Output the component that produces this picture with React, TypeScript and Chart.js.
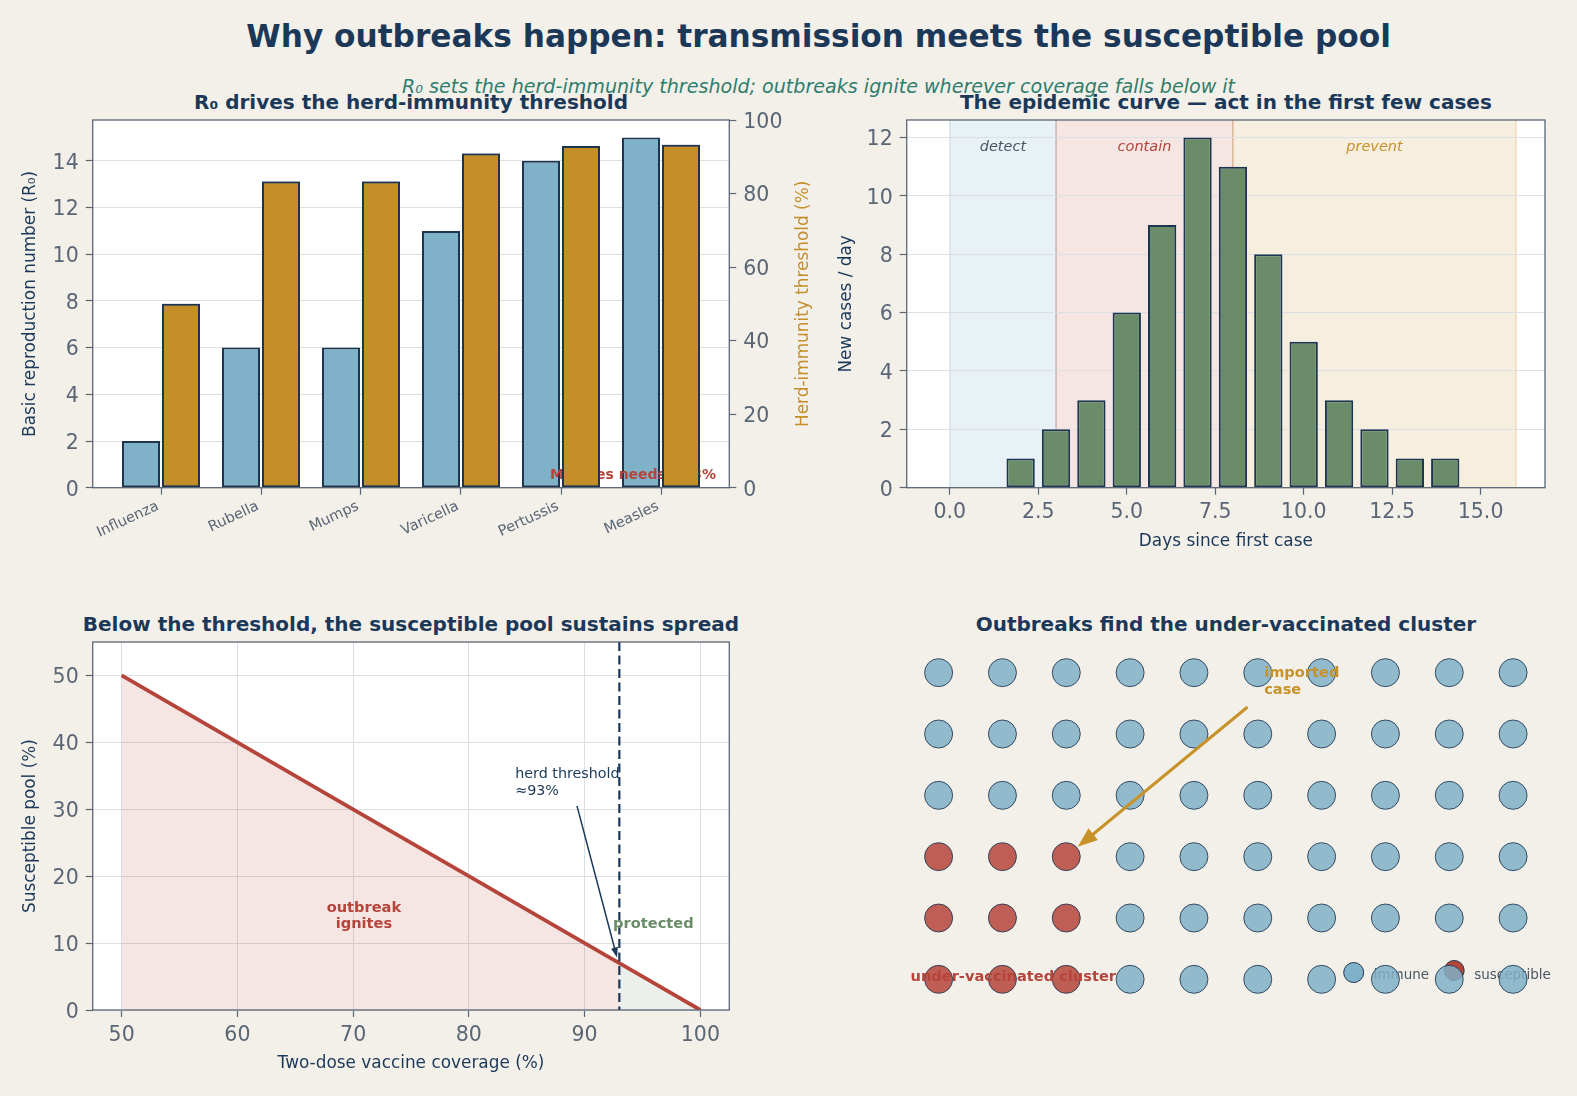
import React, { useEffect, useRef } from "react";
import { Chart, registerables } from "chart.js";

Chart.register(...registerables);

const W = 1577;
const H = 1096;
const FONT = "'DejaVu Sans', 'Liberation Sans', sans-serif";
Chart.defaults.font.family = FONT;

const BG = "#f3f0e9";
const NAVY = "#1c3858";
const EDGE = "#1e3550";
const GRAY = "#5b6675";
const GRID = "#dcdfe4";
const BLUE = "#7fb1c8";
const ORANGE = "#c48e28";
const GREEN = "#6a8c69";
const RED = "#b5443a";
const TEAL = "#2f7d6d";

// ---------------- data ----------------
const diseases = ["Influenza", "Rubella", "Mumps", "Varicella", "Pertussis", "Measles"];
const r0Values = [2, 6, 6, 11, 14, 15];
const herdThresholdPct = [50, 83.3, 83.3, 90.9, 92.9, 93.3];
const r0Ticks = [0, 2, 4, 6, 8, 10, 12, 14];
const herdTicks = [0, 20, 40, 60, 80, 100];

const epiDays = [0, 1, 2, 3, 4, 5, 6, 7, 8, 9, 10, 11, 12, 13, 14, 15];
const epiCases = [0, 0, 1, 2, 3, 6, 9, 12, 11, 8, 5, 3, 2, 1, 1, 0];
const epiDayTicks = [0, 2.5, 5, 7.5, 10, 12.5, 15];
const epiCaseTicks = [0, 2, 4, 6, 8, 10, 12];
const phaseLabels = ["detect", "contain", "prevent"];
const phaseStart = [0, 3, 8];
const phaseEnd = [3, 8, 16];

const coveragePct = [50, 60, 70, 80, 90, 93, 100];
const susceptiblePct = [50, 40, 30, 20, 10, 7, 0];
const herdCoverage = 93;
const coverageTicks = [50, 60, 70, 80, 90, 100];
const poolTicks = [0, 10, 20, 30, 40, 50];

// top row first; I = immune, S = susceptible
const populationGrid = [
  "IIIIIIIIII",
  "IIIIIIIIII",
  "IIIIIIIIII",
  "SSSIIIIIII",
  "SSSIIIIIII",
  "SSSIIIIIII",
];

// ---------------- layout helpers ----------------
const BOX1 = { l: 92.7, t: 120, r: 729.3, b: 487.7 };
const BOX2 = { l: 906.7, t: 120, r: 1545, b: 487.7 };
const BOX3 = { l: 92.7, t: 642, r: 729.3, b: 1010 };
const BOX4 = { l: 906.7, t: 642, r: 1545, b: 1010 };

function layoutFor(box: any, lw: number, rw: number, bh: number) {
  return {
    padding: { left: box.l - lw, top: box.t, right: W - box.r - rw, bottom: H - box.b - bh },
  };
}
const fixW = (w: number) => (s: any) => { s.width = w; };
const fixH = (h: number) => (s: any) => { s.height = h; };
const fixedTicks = (vals: number[]) => (s: any) => { s.ticks = vals.map((v) => ({ value: v })); };

const TICK_FONT = { size: 20.5 };
const Y_TICKS = { color: GRAY, font: TICK_FONT, padding: 7, labelOffset: 2.5 };
const AXIS_TITLE_SIZE = 16.9;
const AXIS_TITLE_FONT = { size: AXIS_TITLE_SIZE };
const gridOpts = (onArea: boolean) => ({
  display: true,
  drawOnChartArea: onArea,
  offset: false,
  color: GRID,
  lineWidth: 1,
  tickLength: 7,
  tickColor: GRAY,
  tickWidth: 1.2,
});
const axisTitle = (text: string, color: string) => ({
  display: true,
  text,
  color,
  font: AXIS_TITLE_FONT,
  padding: { top: 4, bottom: 4 },
});

const framePlugin = {
  id: "frame",
  defaults: { bg: null, stroke: null },
  beforeDraw(chart: any, _a: any, opts: any) {
    if (!opts || !opts.bg) return;
    const { ctx, chartArea: a } = chart;
    ctx.save();
    ctx.fillStyle = opts.bg;
    ctx.fillRect(a.left, a.top, a.right - a.left, a.bottom - a.top);
    ctx.restore();
  },
  afterDraw(chart: any, _a: any, opts: any) {
    if (!opts || !opts.stroke) return;
    const { ctx, chartArea: a } = chart;
    ctx.save();
    ctx.strokeStyle = opts.stroke;
    ctx.lineWidth = 1.3;
    ctx.strokeRect(a.left, a.top, a.right - a.left, a.bottom - a.top);
    ctx.restore();
  },
};
Chart.register(framePlugin as any);

function drawArrow(ctx: any, x1: number, y1: number, x2: number, y2: number, color: string, width: number, headLen: number, headW: number) {
  const ang = Math.atan2(y2 - y1, x2 - x1);
  const c = Math.cos(ang);
  const s = Math.sin(ang);
  const bx = x2 - headLen * c;
  const by = y2 - headLen * s;
  ctx.save();
  ctx.strokeStyle = color;
  ctx.fillStyle = color;
  ctx.lineWidth = width;
  ctx.beginPath();
  ctx.moveTo(x1, y1);
  ctx.lineTo(bx + 1 * c, by + 1 * s);
  ctx.stroke();
  ctx.beginPath();
  ctx.moveTo(x2, y2);
  ctx.lineTo(bx + (headW / 2) * s, by - (headW / 2) * c);
  ctx.lineTo(bx - (headW / 2) * s, by + (headW / 2) * c);
  ctx.closePath();
  ctx.fill();
  ctx.restore();
}

function drawLines(ctx: any, lines: string[], x: number, cy: number, lh: number, font: string, color: string, align: string) {
  ctx.save();
  ctx.font = font;
  ctx.fillStyle = color;
  ctx.textAlign = align;
  ctx.textBaseline = "middle";
  const y0 = cy - ((lines.length - 1) * lh) / 2;
  lines.forEach((t, i) => ctx.fillText(t, x, y0 + i * lh));
  ctx.restore();
}

const baseOptions = {
  animation: false,
  responsive: false,
  events: [],
};

// ---------------- chart 1 ----------------
function cfgR0(): any {
  const barStyle = { borderColor: EDGE, borderWidth: 2, borderSkipped: false, categoryPercentage: 0.8, barPercentage: 0.95 };
  const rightW = 88.3;
  return {
    type: "bar",
    data: {
      datasets: [
        { label: "R0", data: r0Values.map((v, i) => ({ x: i, y: v })), yAxisID: "y", backgroundColor: BLUE, ...barStyle },
        { label: "Herd", data: herdThresholdPct.map((v, i) => ({ x: i, y: v })), yAxisID: "y1", backgroundColor: ORANGE, ...barStyle },
      ],
    },
    options: {
      ...baseOptions,
      layout: layoutFor(BOX1, 76.5, rightW, 70),
      plugins: { legend: { display: false }, tooltip: { enabled: false }, frame: { bg: "#ffffff", stroke: GRAY } },
      scales: {
        x: {
          type: "linear",
          offset: false,
          min: -0.683,
          max: 5.683,
          afterBuildTicks: fixedTicks(diseases.map((_, i) => i)),
          afterFit: fixH(70),
          grid: gridOpts(false),
          border: { display: false },
          ticks: {
            color: GRAY,
            font: { size: 14.5 },
            minRotation: 25,
            maxRotation: 25,
            autoSkip: false,
            padding: 3,
            labelOffset: -3,
            callback: (v: any) => diseases[v] ?? "",
          },
        },
        y: {
          type: "linear",
          position: "left",
          min: 0,
          max: 15.75,
          afterBuildTicks: fixedTicks(r0Ticks),
          afterFit: fixW(76.5),
          grid: gridOpts(true),
          border: { display: false },
          ticks: Y_TICKS,
          title: axisTitle("Basic reproduction number (R₀)", NAVY),
        },
        y1: {
          type: "linear",
          position: "right",
          min: 0,
          max: 100,
          afterBuildTicks: fixedTicks(herdTicks),
          afterFit: fixW(rightW),
          grid: gridOpts(false),
          border: { display: false },
          ticks: Y_TICKS,
        },
      },
    },
    plugins: [
      {
        id: "measlesNote",
        afterDatasetsDraw(chart: any) {
          const { ctx } = chart;
          const x = chart.scales.x.getPixelForValue(4.72);
          const y = chart.scales.y.getPixelForValue(0.51);
          drawLines(ctx, ["Measles needs ≈93%"], x, y, 16, `bold 14px ${FONT}`, RED, "center");
          // threshold bars live on the twin axis and sit above the note
          chart.getDatasetMeta(1).data.forEach((el: any) => el.draw(ctx));
        },
        afterDraw(chart: any) {
          // right-hand axis title, reading bottom-to-top
          const { ctx, chartArea: a } = chart;
          const s = chart.scales.y1;
          const x = s.right - (AXIS_TITLE_SIZE * 1.2) / 2 - 4;
          ctx.save();
          ctx.translate(x, (a.top + a.bottom) / 2);
          ctx.rotate(-Math.PI / 2);
          ctx.font = `${AXIS_TITLE_SIZE}px ${FONT}`;
          ctx.fillStyle = ORANGE;
          ctx.textAlign = "center";
          ctx.textBaseline = "middle";
          ctx.fillText("Herd-immunity threshold (%)", 0, 0);
          ctx.restore();
        },
      },
    ],
  };
}

// ---------------- chart 2 ----------------
const phaseFill = ["rgba(127,177,200,0.18)", "rgba(181,68,58,0.14)", "rgba(197,143,40,0.15)"];
const phaseEdge = ["rgba(127,177,200,0.35)", "rgba(181,68,58,0.28)", "rgba(197,143,40,0.3)"];
const phaseText = ["#4a5563", RED, "#c8922a"];

function cfgEpi(): any {
  return {
    type: "bar",
    data: {
      datasets: [
        {
          data: epiDays.map((d, i) => ({ x: d, y: epiCases[i] })),
          backgroundColor: GREEN,
          borderColor: EDGE,
          borderWidth: 2,
          borderSkipped: false,
          barPercentage: 0.8,
          categoryPercentage: 1,
        },
      ],
    },
    options: {
      ...baseOptions,
      layout: layoutFor(BOX2, 73.9, 0, 67.8),
      plugins: { legend: { display: false }, tooltip: { enabled: false }, frame: { bg: "#ffffff", stroke: GRAY } },
      scales: {
        x: {
          type: "linear",
          offset: false,
          min: -1.22,
          max: 16.82,
          afterBuildTicks: fixedTicks(epiDayTicks),
          afterFit: fixH(67.8),
          grid: gridOpts(false),
          border: { display: false },
          ticks: { color: GRAY, font: TICK_FONT, padding: 6, autoSkip: false, maxRotation: 0, minRotation: 0, callback: (v: any) => Number(v).toFixed(1) },
          title: axisTitle("Days since first case", NAVY),
        },
        y: {
          type: "linear",
          min: 0,
          max: 12.6,
          afterBuildTicks: fixedTicks(epiCaseTicks),
          afterFit: fixW(73.9),
          grid: gridOpts(true),
          border: { display: false },
          ticks: Y_TICKS,
          title: axisTitle("New cases / day", NAVY),
        },
      },
    },
    plugins: [
      {
        id: "phases",
        beforeDraw(chart: any) {
          const { ctx, chartArea: a, scales } = chart;
          ctx.save();
          phaseLabels.forEach((_, i) => {
            const x0 = scales.x.getPixelForValue(phaseStart[i]);
            const x1 = scales.x.getPixelForValue(phaseEnd[i]);
            ctx.fillStyle = phaseFill[i];
            ctx.fillRect(x0, a.top, x1 - x0, a.bottom - a.top);
            ctx.strokeStyle = phaseEdge[i];
            ctx.lineWidth = 1.2;
            ctx.beginPath();
            ctx.moveTo(x0, a.top);
            ctx.lineTo(x0, a.bottom);
            ctx.moveTo(x1, a.top);
            ctx.lineTo(x1, a.bottom);
            ctx.stroke();
          });
          ctx.restore();
        },
        afterDatasetsDraw(chart: any) {
          const { ctx, scales } = chart;
          phaseLabels.forEach((lab, i) => {
            const x = scales.x.getPixelForValue((phaseStart[i] + phaseEnd[i]) / 2);
            const y = scales.y.getPixelForValue(11.65);
            drawLines(ctx, [lab], x, y, 16, `italic 14.5px ${FONT}`, phaseText[i], "center");
          });
        },
      },
    ],
  };
}

// ---------------- chart 3 ----------------
function cfgPool(): any {
  const pts = coveragePct.map((c, i) => ({ x: c, y: susceptiblePct[i] }));
  const below = pts.filter((p) => p.x <= herdCoverage);
  const above = pts.filter((p) => p.x >= herdCoverage);
  const none = "rgba(0,0,0,0)";
  return {
    type: "line",
    data: {
      datasets: [
        { data: pts, borderColor: RED, borderWidth: 3.8, pointRadius: 0, fill: false, tension: 0 },
        { data: below, borderColor: none, borderWidth: 0, pointRadius: 0, backgroundColor: "rgba(181,68,58,0.14)", fill: "origin" },
        { data: above, borderColor: none, borderWidth: 0, pointRadius: 0, backgroundColor: "rgba(106,140,105,0.13)", fill: "origin" },
      ],
    },
    options: {
      ...baseOptions,
      layout: layoutFor(BOX3, 76.5, 0, 68),
      plugins: { legend: { display: false }, tooltip: { enabled: false }, frame: { bg: "#ffffff", stroke: GRAY } },
      scales: {
        x: {
          type: "linear",
          min: 47.5,
          max: 102.5,
          afterBuildTicks: fixedTicks(coverageTicks),
          afterFit: fixH(68),
          grid: gridOpts(true),
          border: { display: false },
          ticks: { color: GRAY, font: TICK_FONT, padding: 6, autoSkip: false, maxRotation: 0 },
          title: axisTitle("Two-dose vaccine coverage (%)", NAVY),
        },
        y: {
          type: "linear",
          min: 0,
          max: 55,
          afterBuildTicks: fixedTicks(poolTicks),
          afterFit: fixW(76.5),
          grid: gridOpts(true),
          border: { display: false },
          ticks: Y_TICKS,
          title: axisTitle("Susceptible pool (%)", NAVY),
        },
      },
    },
    plugins: [
      {
        id: "poolNotes",
        afterDatasetsDraw(chart: any) {
          const { ctx, chartArea: a, scales } = chart;
          const px = (v: number) => scales.x.getPixelForValue(v);
          const py = (v: number) => scales.y.getPixelForValue(v);
          ctx.save();
          ctx.strokeStyle = NAVY;
          ctx.lineWidth = 2.2;
          ctx.setLineDash([9, 4.5]);
          ctx.beginPath();
          ctx.moveTo(px(herdCoverage), a.top);
          ctx.lineTo(px(herdCoverage), a.bottom);
          ctx.stroke();
          ctx.restore();
          drawLines(ctx, ["herd threshold", "≈93%"], px(84), py(33.9), 17, `14.3px ${FONT}`, NAVY, "left");
          drawArrow(ctx, px(89.34), py(30.5), px(92.8), py(7.86), NAVY, 1.5, 10, 7);
          drawLines(ctx, ["outbreak", "ignites"], px(70.93), py(14.0), 16.5, `bold 14.6px ${FONT}`, RED, "center");
          drawLines(ctx, ["protected"], px(95.94), py(12.8), 16, `bold 14.6px ${FONT}`, GREEN, "center");
        },
      },
    ],
  };
}

// ---------------- chart 4 ----------------
function cfgCluster(): any {
  const immune: any[] = [];
  const susceptible: any[] = [];
  populationGrid.forEach((row, r) => {
    const y = populationGrid.length - 1 - r;
    row.split("").forEach((c, x) => (c === "S" ? susceptible : immune).push({ x, y }));
  });
  const dot = { pointRadius: 14, pointBorderWidth: 1, pointBorderColor: "rgba(30,53,80,0.85)", showLine: false };
  return {
    type: "scatter",
    data: {
      datasets: [
        { data: immune, pointBackgroundColor: "rgba(127,177,200,0.85)", ...dot },
        { data: susceptible, pointBackgroundColor: "rgba(181,68,58,0.85)", ...dot },
      ],
    },
    options: {
      ...baseOptions,
      layout: layoutFor(BOX4, 0, 0, 0),
      plugins: { legend: { display: false }, tooltip: { enabled: false }, frame: false },
      scales: {
        x: { type: "linear", min: -0.5, max: 9.5, display: false },
        y: { type: "linear", min: -0.5, max: 5.5, display: false },
      },
    },
    plugins: [
      {
        id: "clusterNotes",
        beforeDatasetsDraw(chart: any) {
          const { ctx, chartArea: a } = chart;
          const items = [
            { label: "immune", color: BLUE, dx: 191.3, dy: 37.5 },
            { label: "susceptible", color: RED, dx: 90.8, dy: 39.5 },
          ];
          items.forEach((it) => {
            const cx = a.right - it.dx;
            const cy = a.bottom - it.dy;
            ctx.save();
            ctx.beginPath();
            ctx.arc(cx, cy, 10, 0, Math.PI * 2);
            ctx.fillStyle = it.color;
            ctx.fill();
            ctx.lineWidth = 1;
            ctx.strokeStyle = EDGE;
            ctx.stroke();
            ctx.restore();
            drawLines(ctx, [it.label], cx + 20, a.bottom - 34.5, 16, `13.5px ${FONT}`, "#4a5563", "left");
          });
        },
        afterDatasetsDraw(chart: any) {
          const { ctx, scales } = chart;
          const px = (v: number) => scales.x.getPixelForValue(v);
          const py = (v: number) => scales.y.getPixelForValue(v);
          drawArrow(ctx, px(4.84), py(4.44), px(2.18), py(2.16), "#c8922a", 3, 20, 15);
          drawLines(ctx, ["imported", "case"], px(5.1), py(4.86), 17, `bold 14.6px ${FONT}`, "#c8922a", "left");
          drawLines(ctx, ["under-vaccinated cluster"], px(-0.44), py(0.03), 16, `bold 14.6px ${FONT}`, RED, "left");
        },
      },
    ],
  };
}

function Txt(props: any) {
  const { cx, cy, size, bold, italic, color, children } = props;
  return (
    <div
      style={{
        position: "absolute",
        left: cx - 700,
        width: 1400,
        top: cy,
        transform: "translateY(-50%)",
        textAlign: "center",
        fontSize: size,
        fontWeight: bold ? "bold" : "normal",
        fontStyle: italic ? "italic" : "normal",
        color,
        lineHeight: 1.15,
        whiteSpace: "nowrap",
        fontFamily: FONT,
      }}
    >
      {children}
    </div>
  );
}

export default function App() {
  const r1 = useRef<HTMLCanvasElement>(null);
  const r2 = useRef<HTMLCanvasElement>(null);
  const r3 = useRef<HTMLCanvasElement>(null);
  const r4 = useRef<HTMLCanvasElement>(null);

  useEffect(() => {
    const charts = [
      new Chart(r1.current as any, cfgR0()),
      new Chart(r2.current as any, cfgEpi()),
      new Chart(r3.current as any, cfgPool()),
      new Chart(r4.current as any, cfgCluster()),
    ];
    return () => charts.forEach((c) => c.destroy());
  }, []);

  const cStyle: any = { position: "absolute", left: 0, top: 0, width: W, height: H };
  return (
    <div style={{ position: "absolute", left: 0, top: 0, width: W, height: H, background: BG, overflow: "hidden", fontFamily: FONT }}>
      <Txt cx={818.6} cy={37.2} size={31.2} bold color={NAVY}>
        Why outbreaks happen: transmission meets the susceptible pool
      </Txt>
      <Txt cx={818.6} cy={86.5} size={19.1} italic color={TEAL}>
        R₀ sets the herd-immunity threshold; outbreaks ignite wherever coverage falls below it
      </Txt>
      <Txt cx={411} cy={101.6} size={20} bold color={NAVY}>
        R₀ drives the herd-immunity threshold
      </Txt>
      <Txt cx={1225.9} cy={101.6} size={20} bold color={NAVY}>
        The epidemic curve — act in the first few cases
      </Txt>
      <Txt cx={411} cy={623.5} size={20} bold color={NAVY}>
        Below the threshold, the susceptible pool sustains spread
      </Txt>
      <Txt cx={1225.9} cy={623.5} size={20} bold color={NAVY}>
        Outbreaks find the under-vaccinated cluster
      </Txt>
      <canvas ref={r1} width={W} height={H} style={cStyle} />
      <canvas ref={r2} width={W} height={H} style={cStyle} />
      <canvas ref={r3} width={W} height={H} style={cStyle} />
      <canvas ref={r4} width={W} height={H} style={cStyle} />
    </div>
  );
}
